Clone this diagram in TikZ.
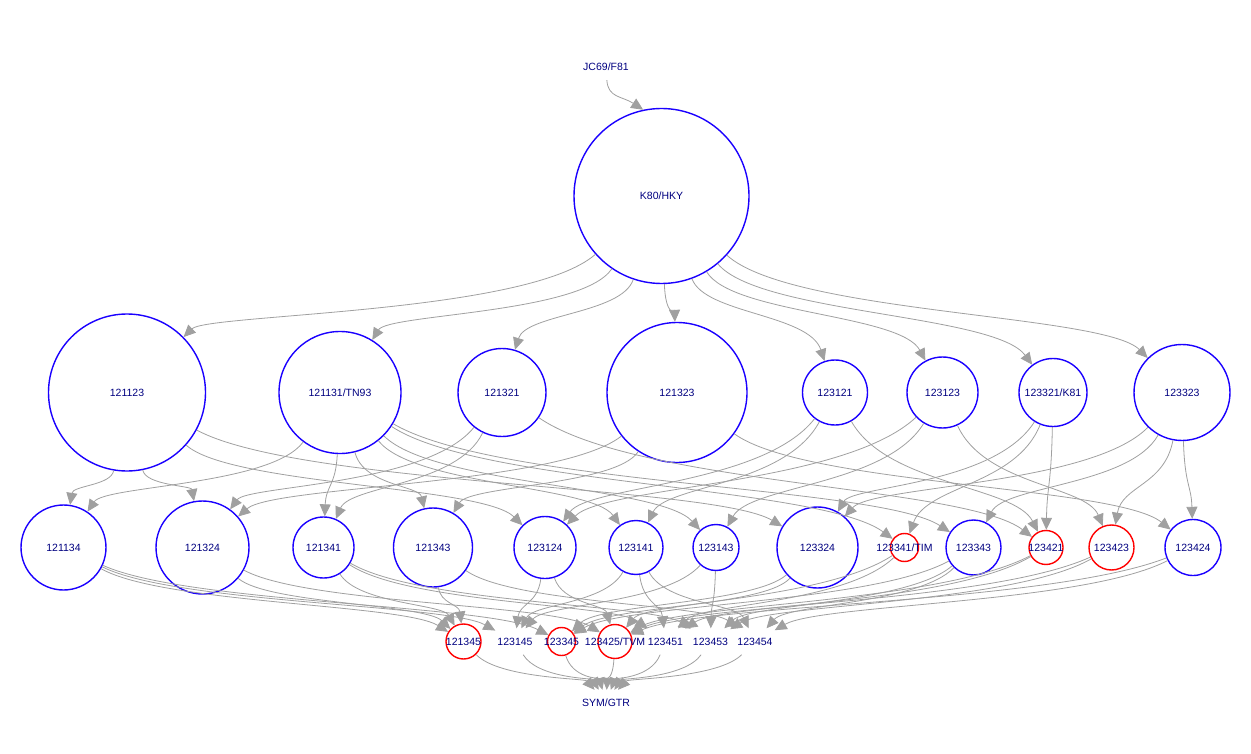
\documentclass[tikz,border=0pt]{standalone}
\usepackage{fontspec}
\setmainfont{Liberation Sans}
\usetikzlibrary{arrows.meta,calc}
\definecolor{modelblue}{HTML}{1A00FF}
\definecolor{modelred}{HTML}{FF0000}
\definecolor{navytext}{HTML}{000080}
\definecolor{edgegray}{HTML}{A0A0A0}
\tikzset{
  lab/.style={text=navytext, inner sep=0pt, font=\fontsize{10.5}{12}\selectfont},
  bc/.style={circle, draw=modelblue, line width=1.4pt, inner sep=0pt},
  rc/.style={circle, draw=modelred, line width=1.4pt, inner sep=0pt},
  txt/.style={text=navytext, inner sep=2pt, minimum height=26pt, font=\fontsize{10.5}{12}\selectfont},
  link/.style={draw=edgegray, line width=0.8pt, -{Triangle[length=12pt,width=11pt]}},
}
\newcommand\mylink[2]{\draw[link] let \p1=(#1.center), \p2=(#2.center) in (#1) .. controls ({\x1+0.25*(\x2-\x1)},{\y1+0.6*(\y2-\y1)}) and ({\x2-0.15*(\x2-\x1)},{\y2-0.4*(\y2-\y1)}) .. (#2);}
\begin{document}
\begin{tikzpicture}[x=1pt,y=-1pt]
\useasboundingbox (0,0) rectangle (1251,754);
% top
\node[txt] (jc) at (606,67) {JC69/F81};
\node[bc, minimum size=175pt, label={[lab]center:K80/HKY}] (k80) at (661.5,196) {};
% row 2
\node[bc, minimum size=157pt, label={[lab]center:121123}] (n121123) at (127,392.5) {};
\node[bc, minimum size=122pt, label={[lab]center:121131/TN93}] (n121131) at (340,392.5) {};
\node[bc, minimum size=88pt, label={[lab]center:121321}] (n121321) at (502,392.5) {};
\node[bc, minimum size=140pt, label={[lab]center:121323}] (n121323) at (677,392.5) {};
\node[bc, minimum size=65pt, label={[lab]center:123121}] (n123121) at (835,392.5) {};
\node[bc, minimum size=71pt, label={[lab]center:123123}] (n123123) at (942.5,392.5) {};
\node[bc, minimum size=68pt, label={[lab]center:123321/K81}] (n123321) at (1053,392.5) {};
\node[bc, minimum size=96pt, label={[lab]center:123323}] (n123323) at (1182,392.5) {};
% row 3
\node[bc, minimum size=85pt, label={[lab]center:121134}] (n121134) at (63.5,547.5) {};
\node[bc, minimum size=93pt, label={[lab]center:121324}] (n121324) at (202.5,547.5) {};
\node[bc, minimum size=61pt, label={[lab]center:121341}] (n121341) at (323.5,547.5) {};
\node[bc, minimum size=79pt, label={[lab]center:121343}] (n121343) at (433,547.5) {};
\node[bc, minimum size=62pt, label={[lab]center:123124}] (n123124) at (545,547.5) {};
\node[bc, minimum size=54pt, label={[lab]center:123141}] (n123141) at (636,547.5) {};
\node[bc, minimum size=46pt, label={[lab]center:123143}] (n123143) at (716,547.5) {};
\node[bc, minimum size=81pt, label={[lab]center:123324}] (n123324) at (817.5,547.5) {};
\node[rc, minimum size=28pt, label={[lab]center:123341/TIM}] (n123341) at (904.5,547.5) {};
\node[bc, minimum size=55pt, label={[lab]center:123343}] (n123343) at (973.5,547.5) {};
\node[rc, minimum size=34pt, label={[lab]center:123421}] (n123421) at (1046,547.5) {};
\node[rc, minimum size=45pt, label={[lab]center:123423}] (n123423) at (1111.5,547.5) {};
\node[bc, minimum size=56pt, label={[lab]center:123424}] (n123424) at (1193,547.5) {};
% row 4
\node[rc, minimum size=35pt, label={[lab]center:121345}] (n121345) at (463.5,641.5) {};
\node[txt] (n123145) at (515,641.5) {123145};
\node[rc, minimum size=28pt, label={[lab]center:123345}] (n123345) at (561.5,641.5) {};
\node[rc, minimum size=34pt, label={[lab]center:123425/TVM}] (n123425) at (615,641.5) {};
\node[txt] (n123451) at (665.5,641.5) {123451};
\node[txt] (n123453) at (710.5,641.5) {123453};
\node[txt] (n123454) at (755,641.5) {123454};
% bottom
\node[txt] (gtr) at (606,703) {SYM/GTR};
% edges
\draw[link] (jc) .. controls (608,98) and (622,96) .. (k80.102);
\foreach \b in {n121123,n121131,n121321,n121323,n123121,n123123,n123321,n123323} {\mylink{k80}{\b}}
\foreach \a/\b in {
  n121123/n121134, n121123/n121324, n121123/n123124, n121123/n123324,
  n121131/n121134, n121131/n121341, n121131/n121343, n121131/n123141, n121131/n123143, n121131/n123341, n121131/n123343,
  n121321/n121324, n121321/n121341, n121321/n123421,
  n121323/n121324, n121323/n121343, n121323/n123424,
  n123121/n123124, n123121/n123141, n123121/n123421,
  n123123/n123124, n123123/n123143, n123123/n123423,
  n123321/n123324, n123321/n123341, n123321/n123421,
  n123323/n123324, n123323/n123343, n123323/n123423, n123323/n123424} {\mylink{\a}{\b}}
\foreach \a/\b in {
  n121134/n121345, n121134/n123145, n121134/n123345,
  n121324/n121345, n121324/n123425,
  n121341/n121345, n121341/n123451, n121341/n123453,
  n121343/n121345, n121343/n123454,
  n123124/n123145, n123124/n123425,
  n123141/n123145, n123141/n123451, n123141/n123454,
  n123143/n123145, n123143/n123453,
  n123324/n123345, n123324/n123425,
  n123341/n123345, n123341/n123451,
  n123343/n123345, n123343/n123453, n123343/n123454,
  n123421/n123425, n123421/n123451,
  n123423/n123425, n123423/n123453,
  n123424/n123425, n123424/n123454} {\mylink{\a}{\b}}
\foreach \a in {n121345,n123145,n123345,n123425,n123451,n123453,n123454} {\mylink{\a}{gtr}}
\end{tikzpicture}
\end{document}
